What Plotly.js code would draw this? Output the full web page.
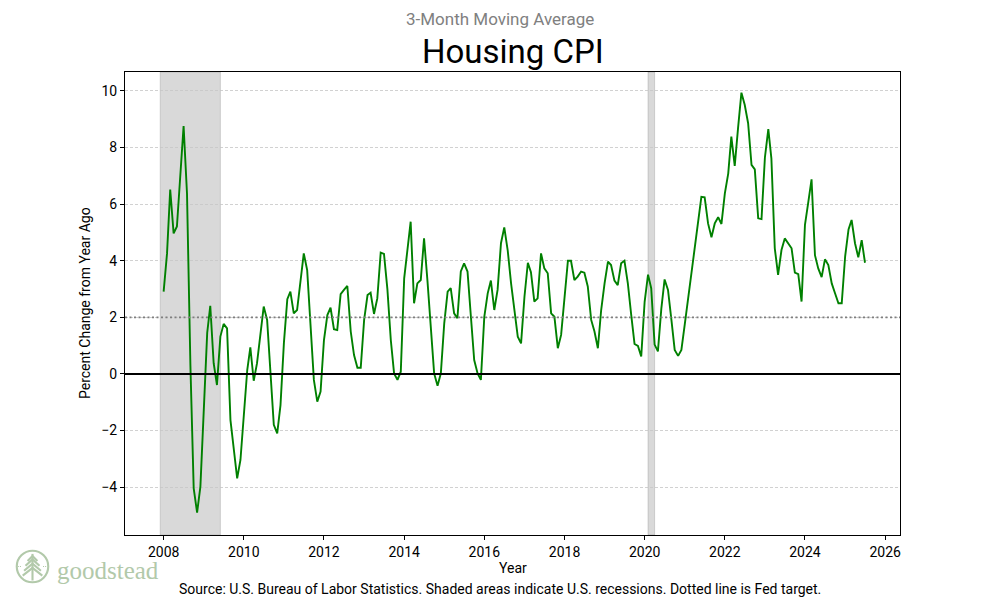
<!DOCTYPE html>
<html>
<head>
<meta charset="utf-8">
<script src="https://cdn.plot.ly/plotly-3.0.1.min.js"></script>
<style>
  html, body { margin: 0; padding: 0; background: #ffffff; }
  #chart { width: 1000px; height: 600px; }
</style>
</head>
<body>
<div id="chart"></div>
<script>
// ---- Data (monthly, 3-month moving average of YoY % change) ----
const startYear = 2008;
const startMonth = 1; // January 2008
const housingCpi = [
  2.91, 4.26, 6.52, 4.97, 5.21, 6.97, 8.76, 6.38, 0.3, -4.04,
  -4.90, -3.98, -1.0, 1.45, 2.41, 0.38, -0.39, 1.32, 1.77, 1.61,
  -1.63, -2.69, -3.69, -3.04, -1.27, 0.14, 0.94, -0.24, 0.38, 1.32,
  2.38, 1.91, 0.0, -1.80, -2.10, -1.1, 1.1, 2.64, 2.91, 2.14,
  2.26, 3.26, 4.26, 3.67, 1.67, -0.21, -0.98, -0.62, 1.20, 2.08,
  2.34, 1.58, 1.55, 2.82, 2.97, 3.11, 1.50, 0.67, 0.22, 0.22,
  1.91, 2.79, 2.87, 2.12, 2.67, 4.29, 4.24, 3.0, 1.2, 0.02,
  -0.21, 0.08, 3.38, 4.38, 5.38, 2.50, 3.20, 3.32, 4.79, 3.3,
  1.67, 0.02, -0.42, 0.02, 1.79, 2.91, 3.03, 2.14, 1.97, 3.62,
  3.91, 3.62, 2.02, 0.49, 0.02, -0.21, 2.02, 2.85, 3.30, 2.26,
  2.97, 4.62, 5.18, 4.38, 3.20, 2.26, 1.32, 1.08, 2.73, 3.93,
  3.6, 2.56, 2.67, 4.26, 3.73, 3.56, 2.14, 2.02, 0.91, 1.38,
  2.73, 4.00, 4.00, 3.32, 3.44, 3.62, 3.58, 3.09, 1.91, 1.50,
  0.91, 2.26, 3.20, 3.97, 3.85, 3.30, 3.14, 3.91, 4.00, 3.20,
  2.08, 1.06, 0.99, 0.62, 2.55, 3.51, 3.03, 1.04, 0.80, 2.30,
  3.34, 2.97, 1.91, 0.85, 0.64, 0.85, 1.76, 2.66, 3.56, 4.46,
  5.32, 6.26, 6.24, 5.32, 4.83, 5.32, 5.54, 5.30, 6.38, 7.09,
  8.39, 7.35, 8.68, 9.94, 9.51, 8.86, 7.39, 7.23, 5.50, 5.47,
  7.65, 8.65, 7.62, 4.44, 3.50, 4.38, 4.79, 4.62, 4.44, 3.58,
  3.53, 2.56, 5.27, 6.09, 6.88, 4.20, 3.73, 3.42, 4.05, 3.85,
  3.20, 2.85, 2.50, 2.50, 4.15, 5.11, 5.44, 4.62, 4.12, 4.73,
  3.93
];
const recessionStarts = ['2007-12-01', '2020-02-01'];
const recessionEnds   = ['2009-06-01', '2020-04-01'];
const fedTarget = 2;
const yTickVals = [-4, -2, 0, 2, 4, 6, 8, 10];
const xTickYears = [2008, 2010, 2012, 2014, 2016, 2018, 2020, 2022, 2024, 2026];

// ---- Build month dates ----
const months = housingCpi.map((_, i) => {
  const total = (startMonth - 1) + i;
  const y = startYear + Math.floor(total / 12);
  const m = (total % 12) + 1;
  return y + '-' + String(m).padStart(2, '0') + '-01';
});

const trace = {
  x: months,
  y: housingCpi,
  type: 'scatter',
  mode: 'lines',
  line: { color: '#008000', width: 1.9 },
  hoverinfo: 'x+y'
};

const shapes = [];
recessionStarts.forEach((s, i) => {
  shapes.push({
    type: 'rect', xref: 'x', yref: 'paper',
    x0: s, x1: recessionEnds[i], y0: 0, y1: 1,
    fillcolor: 'rgba(128,128,128,0.3)',
    line: { color: 'rgba(128,128,128,0.3)', width: 1 },
    layer: 'below'
  });
});
shapes.push({
  type: 'line', xref: 'paper', yref: 'y',
  x0: 0, x1: 1, y0: 0, y1: 0,
  line: { color: '#000000', width: 1.9 }
});
shapes.push({
  type: 'line', xref: 'paper', yref: 'y',
  x0: 0, x1: 1, y0: fedTarget, y1: fedTarget,
  line: { color: '#7f7f7f', width: 1.6, dash: '2px,2.5px' }
});

const logoSvg = '<svg xmlns="http://www.w3.org/2000/svg" width="100" height="100" viewBox="0 0 100 100">' +
  '<circle cx="50" cy="50" r="45" fill="none" stroke="#b2c9aa" stroke-width="6"/>' +
  '<line x1="50" y1="14" x2="50" y2="90" stroke="#b2c9aa" stroke-width="6"/>' +
  '<polyline points="36,34 50,20 64,34" fill="none" stroke="#b2c9aa" stroke-width="6"/>' +
  '<polyline points="30,48 50,30 70,48" fill="none" stroke="#b2c9aa" stroke-width="6"/>' +
  '<polyline points="26,62 50,42 74,62" fill="none" stroke="#b2c9aa" stroke-width="6"/>' +
  '<polyline points="22,76 50,54 78,76" fill="none" stroke="#b2c9aa" stroke-width="6"/>' +
  '<line x1="8" y1="50" x2="20" y2="50" stroke="#b2c9aa" stroke-width="3" stroke-dasharray="3,3"/>' +
  '<line x1="80" y1="50" x2="92" y2="50" stroke="#b2c9aa" stroke-width="3" stroke-dasharray="3,3"/>' +
  '</svg>';
const logoUri = 'data:image/svg+xml;base64,' + btoa(logoSvg);

// plot area in pixels: left 125, right 900, top 72, bottom 535
const L = 125, R = 900, T = 72, B = 535;
const px = x => (x - L) / (R - L);
const py = y => (B - y) / (B - T);

const layout = {
  width: 1000,
  height: 600,
  margin: { l: L, r: 1000 - R, t: T, b: 600 - B, pad: 0 },
  paper_bgcolor: '#ffffff',
  plot_bgcolor: '#ffffff',
  font: { family: 'Roboto, "DejaVu Sans", sans-serif', size: 14, color: '#000000' },
  showlegend: false,
  xaxis: {
    type: 'date',
    range: ['2007-01-14', '2026-05-16'],
    tickvals: xTickYears.map(y => y + '-01-01'),
    ticktext: xTickYears.map(String),
    ticks: 'outside', ticklen: 4, tickwidth: 1, tickcolor: '#000',
    showline: true, linecolor: '#000', linewidth: 1, mirror: true,
    showgrid: false, zeroline: false,
    tickfont: { size: 14, color: '#000' }
  },
  yaxis: {
    range: [-5.69, 10.67],
    tickvals: yTickVals,
    ticks: 'outside', ticklen: 4, tickwidth: 1, tickcolor: '#000',
    showline: true, linecolor: '#000', linewidth: 1, mirror: true,
    showgrid: true, gridcolor: '#c6c6c6', gridwidth: 0.8, griddash: '3px,2px',
    zeroline: false,
    tickfont: { size: 14, color: '#000' }
  },
  shapes: shapes,
  images: [{
    source: logoUri, xref: 'paper', yref: 'paper',
    x: px(15), y: py(549), sizex: 35 / (R - L), sizey: 35 / (B - T),
    xanchor: 'left', yanchor: 'top', sizing: 'contain', layer: 'above'
  }],
  annotations: [
    { text: '3-Month Moving Average', xref: 'paper', yref: 'paper', x: px(500), y: py(19),
      xanchor: 'center', yanchor: 'middle', showarrow: false,
      font: { size: 17, color: '#808080' } },
    { text: 'Housing CPI', xref: 'paper', yref: 'paper', x: 0.5, y: py(52),
      xanchor: 'center', yanchor: 'middle', showarrow: false,
      font: { size: 33, color: '#000000' } },
    { text: 'Year', xref: 'paper', yref: 'paper', x: 0.5, y: py(568),
      xanchor: 'center', yanchor: 'middle', showarrow: false,
      font: { size: 14, color: '#000000' } },
    { text: 'Percent Change from Year Ago', xref: 'paper', yref: 'paper', x: px(85), y: py(303),
      xanchor: 'center', yanchor: 'middle', textangle: -90, showarrow: false,
      font: { size: 14, color: '#000000' } },
    { text: 'Source: U.S. Bureau of Labor Statistics. Shaded areas indicate U.S. recessions. Dotted line is Fed target.',
      xref: 'paper', yref: 'paper', x: px(500), y: py(589),
      xanchor: 'center', yanchor: 'middle', showarrow: false,
      font: { size: 14, color: '#000000' } },
    { text: 'goodstead', xref: 'paper', yref: 'paper', x: px(55), y: py(570),
      xanchor: 'left', yanchor: 'middle', showarrow: false,
      font: { family: '"Liberation Serif", "DejaVu Serif", serif', size: 25, color: '#b2c9aa' } }
  ]
};

Plotly.newPlot('chart', [trace], layout, { displayModeBar: false, staticPlot: true });
</script>
</body>
</html>
